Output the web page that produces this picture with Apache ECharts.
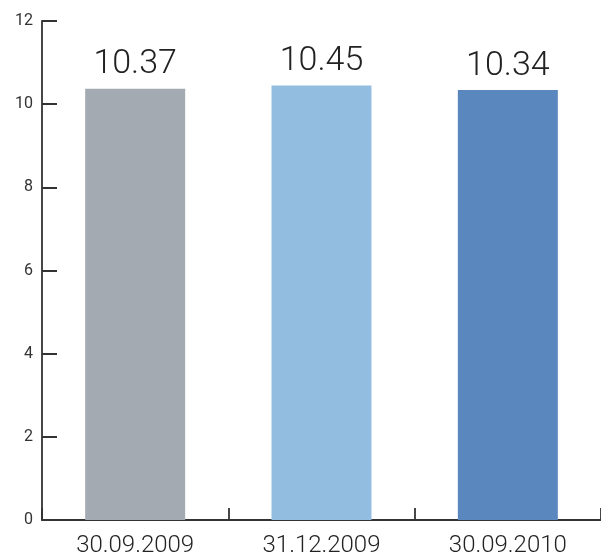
<!DOCTYPE html>
<html><head><meta charset="utf-8">
<script src="https://cdn.jsdelivr.net/npm/echarts@6/dist/echarts.min.js"></script>
<style>html,body{margin:0;padding:0;background:#fff}#c{width:601px;height:558px}</style>
</head><body><div id="c"></div>
<script>
const categories = ['30.09.2009', '31.12.2009', '30.09.2010'];
const values = [10.37, 10.45, 10.34];
const barColors = ['#a3aab1', '#93bde0', '#5a88be'];
const yTicks = [0, 2, 4, 6, 8, 10, 12];

const chart = echarts.init(document.getElementById('c'));
chart.setOption({
  animation: false,
  grid: { left: 42, right: 0, top: 21, bottom: 38 },
  xAxis: {
    type: 'category', data: categories,
    axisLine: { lineStyle: { color: '#333', width: 1.8 } },
    axisTick: { show: true, inside: true, length: 12, lineStyle: { color: '#333', width: 1.8 } },
    axisLabel: { color: '#222', fontSize: 24, fontFamily: 'Roboto', fontWeight: 300, margin: 14 }
  },
  yAxis: {
    type: 'value', min: yTicks[0], max: yTicks[yTicks.length - 1], interval: 2,
    splitLine: { show: false },
    axisLine: { show: true, lineStyle: { color: '#333', width: 1.8 } },
    axisTick: { show: true, inside: true, length: 15, lineStyle: { color: '#333', width: 2 } },
    axisLabel: { color: '#333', fontSize: 16, fontFamily: 'Roboto', margin: 9 }
  },
  series: [{
    type: 'bar', barWidth: 100,
    data: values.map((v, i) => ({ value: v, itemStyle: { color: barColors[i] } })),
    label: { show: true, position: 'top', distance: 7, color: '#222', fontSize: 34, fontFamily: 'Roboto', fontWeight: 300,
      formatter: p => p.value.toFixed(2) }
  }]
});
</script></body></html>
